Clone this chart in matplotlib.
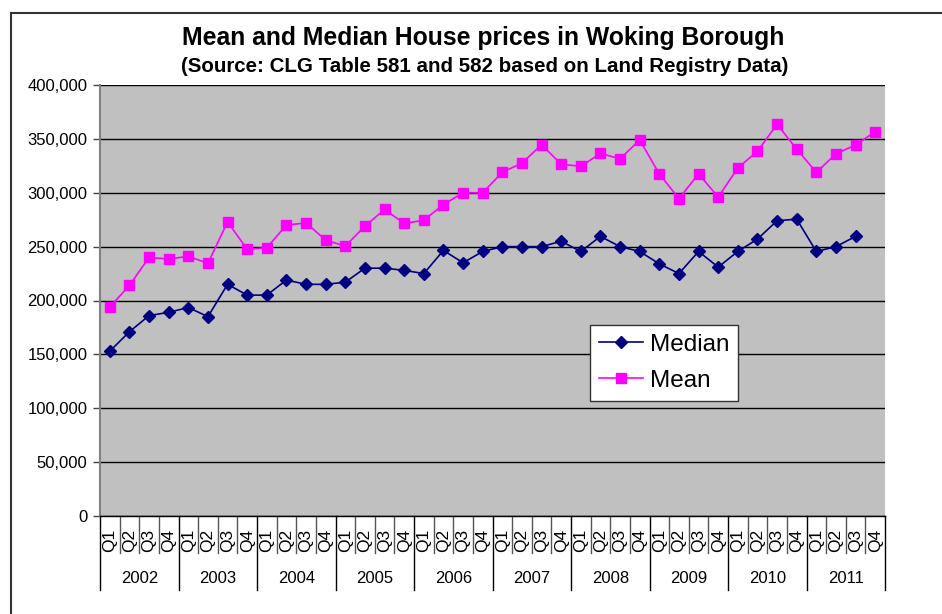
import matplotlib.pyplot as plt
import matplotlib.transforms as mtransforms
from matplotlib.ticker import FuncFormatter
import numpy as np

plt.rcParams['font.family'] = ['Liberation Sans', 'DejaVu Sans']

### 데이터
years = ["2002", "2003", "2004", "2005", "2006", "2007", "2008", "2009", "2010", "2011"]
quarters = ["Q1", "Q2", "Q3", "Q4"]

median_prices = [153000, 171000, 186000, 189000, 193500, 185000, 215000, 205000, 205000, 219000,
                 215000, 215000, 217000, 230000, 230000, 228000, 225000, 246500, 235000, 245500,
                 250000, 250000, 250000, 255000, 245500, 259500, 250000, 245500, 234000, 225000,
                 245500, 231000, 245500, 257000, 274000, 275500, 245500, 250000, 259500, np.nan]

mean_prices = [194000, 214000, 240000, 238500, 241000, 234500, 273000, 247500, 249000, 270000,
               272000, 256000, 250500, 269000, 284500, 271500, 274500, 289000, 300000, 300000,
               319000, 327500, 344500, 326500, 324500, 336500, 331500, 349000, 317500, 294500,
               317500, 296000, 323000, 338500, 363500, 340500, 319000, 336000, 344500, 356500]

### 시각화
fig = plt.figure(figsize=(9.42, 6.14), dpi=100)
ax = fig.add_axes([100 / 942, 1 - 516 / 614, 785 / 942, 431 / 614])
ax.set_facecolor("#C0C0C0")

x = np.arange(len(mean_prices))
ax.plot(x, median_prices, color="#000080", marker="D", markersize=6.5, linewidth=1.2, label="Median")
ax.plot(x, mean_prices, color="#FF00FF", marker="s", markersize=7, linewidth=1.2, label="Mean")

ax.set_xlim(-0.5, len(x) - 0.5)
ax.set_ylim(0, 400000)
ax.set_yticks(np.arange(0, 400001, 50000))
ax.yaxis.set_major_formatter(FuncFormatter(lambda v, p: f"{int(v):,}"))
ax.tick_params(axis="y", labelsize=12, length=5, width=1, color="#444444", pad=4)
ax.yaxis.grid(True, color="black", linewidth=1)
ax.set_axisbelow(True)

# 분기 라벨
ax.set_xticks(x)
ax.set_xticklabels(quarters * len(years), rotation=90, fontsize=12.5)
ax.tick_params(axis="x", length=0, pad=9)

for s in ["top", "right"]:
    ax.spines[s].set_visible(False)
ax.spines["left"].set_color("#808080")
ax.spines["left"].set_linewidth(1.5)
ax.spines["bottom"].set_color("black")
ax.spines["bottom"].set_linewidth(1)

# 분기/연도 구분선
trans = mtransforms.blended_transform_factory(ax.transData, ax.transAxes)
for i in range(len(x) + 1):
    pos = i - 0.5
    if i % 4 == 0:
        ax.plot([pos, pos], [0, -0.172], transform=trans, color="black", linewidth=1, clip_on=False)
    else:
        ax.plot([pos, pos], [0, -0.086], transform=trans, color="#555555", linewidth=1, clip_on=False)

for k, yr in enumerate(years):
    ax.text(k * 4 + 1.5, -0.144, yr, transform=trans, ha="center", va="center", fontsize=12)

leg = ax.legend(loc="upper left", bbox_to_anchor=((590 - 100) / 785, (516 - 325) / 431),
                fontsize=17.5, frameon=True, fancybox=False, edgecolor="#333333",
                facecolor="white", framealpha=1,
                handlelength=1.8, borderpad=0.36, labelspacing=0.58, handletextpad=0.3,
                borderaxespad=0)
leg.get_frame().set_linewidth(1)

fig.text(483 / 942, 1 - 38 / 614, "Mean and Median House prices in Woking Borough",
         ha="center", va="center", fontsize=17.8, fontweight="bold")
fig.text(485 / 942, 1 - 66 / 614, "(Source: CLG Table 581 and 582 based on Land Registry Data)",
         ha="center", va="center", fontsize=14.8, fontweight="bold")

# 차트 테두리
fig.add_artist(plt.Line2D([11 / 942, 1.0], [1 - 13 / 614, 1 - 13 / 614], color="#333333", linewidth=1.5))
fig.add_artist(plt.Line2D([11 / 942, 11 / 942], [0, 1 - 13 / 614], color="#333333", linewidth=1.5))

plt.savefig("out.png", dpi=100)
plt.close()
